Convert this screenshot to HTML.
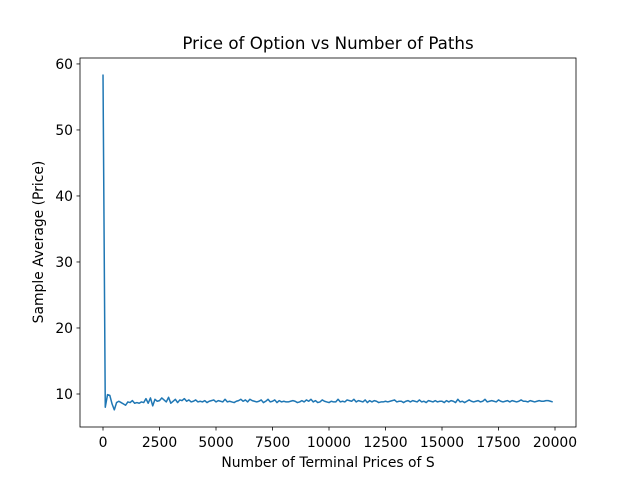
<!DOCTYPE html>
<html><head><meta charset="utf-8"><style>
body{margin:0;background:#fff;font-family:"DejaVu Sans","Liberation Sans",sans-serif;}
svg text{font-family:"DejaVu Sans","Liberation Sans",sans-serif;}
</style></head><body>
<svg id="chart" width="640" height="480" xmlns="http://www.w3.org/2000/svg">
<rect width="640" height="480" fill="#fff"/>
<text x="328" y="49" font-size="16.7" text-anchor="middle">Price of Option vs Number of Paths</text>
<g id="axes"></g>
<text x="328" y="467" font-size="13.9" text-anchor="middle">Number of Terminal Prices of S</text>
<text transform="translate(43,242) rotate(-90)" font-size="13.9" text-anchor="middle">Sample Average (Price)</text>
</svg>
<script>
const xTicks=[0,2500,5000,7500,10000,12500,15000,17500,20000];
const yTicks=[10,20,30,40,50,60];
const prices=[58.4,8.0,9.9,9.8,8.5,7.6,8.7,8.9,8.7,8.5,8.3,8.8,8.7,9.0,8.6,8.7,8.6,8.8,8.7,9.3,8.6,9.4,8.2,9.2,8.9,9.0,9.4,9.1,8.8,9.5,8.6,8.9,9.2,8.7,9.1,9.0,9.3,8.9,9.1,8.8,8.9,9.1,8.8,8.9,8.8,9.0,8.7,8.9,9.0,9.1,8.8,9.0,8.9,8.8,9.2,8.8,8.9,8.8,8.7,8.9,9.0,9.2,8.9,9.1,8.8,9.2,9.0,8.9,8.8,8.9,9.1,8.7,8.9,9.2,8.8,8.9,9.1,8.7,9.0,8.8,8.9,8.8,8.8,8.9,9.0,8.9,8.7,8.8,9.0,8.8,9.1,8.9,9.2,8.8,9.0,8.7,8.8,9.1,8.9,8.8,8.7,8.9,8.8,8.8,9.2,8.8,8.9,8.8,9.1,9.0,8.9,9.2,8.8,9.0,8.9,8.8,9.1,8.7,9.0,8.8,9.0,8.9,8.7,8.8,8.8,8.9,8.8,8.9,9.0,9.1,8.8,8.9,8.9,8.7,8.9,9.0,8.8,9.0,8.9,8.8,9.1,8.8,8.9,8.7,9.0,8.9,8.8,9.0,8.8,8.9,8.9,8.7,9.0,8.8,9.0,8.9,8.7,9.2,8.8,8.9,8.7,8.9,9.1,8.9,8.8,8.9,9.0,8.8,8.9,9.2,8.8,8.9,9.0,8.9,8.8,9.1,8.9,8.8,8.9,9.0,8.8,9.0,8.9,8.8,8.9,9.1,8.9,8.9,8.8,9.0,8.9,8.8,8.9,9.0,8.9,8.9,9.0,9.0,8.9,8.8];
const pathCounts=prices.map((_,i)=>i*100);
const L=80,R=576,T=58,B=427;
const xMin=-1018,xMax=20929,yMin=5.0,yMax=60.9;
const xs=v=>L+(v-xMin)/(xMax-xMin)*(R-L);
const ys=v=>B-(v-yMin)/(yMax-yMin)*(B-T);
const NS="http://www.w3.org/2000/svg";
const g=document.getElementById('axes');
function mk(t,a){const e=document.createElementNS(NS,t);for(const k in a)e.setAttribute(k,a[k]);g.appendChild(e);return e;}
const d=pathCounts.map((x,i)=>(i?'L':'M')+xs(x).toFixed(2)+' '+ys(prices[i]).toFixed(2)).join(' ');
const line=mk('path',{d:d,fill:'none',stroke:'#1f77b4','stroke-width':1.5,'stroke-linejoin':'round'});


const frame=mk('rect',{x:L,y:T,width:R-L,height:B-T,fill:'none',stroke:'#000','stroke-width':0.8});


xTicks.forEach(v=>{const x=xs(v);
 const t=mk('line',{x1:x,x2:x,y1:B,y2:B+3.5,stroke:'#000','stroke-width':0.8});
 
 
 const l=mk('text',{x:x,y:B+20,'font-size':13.9,'text-anchor':'middle'});l.textContent=v;
 
 });
yTicks.forEach(v=>{const y=ys(v);
 const t=mk('line',{x1:L-3.5,x2:L,y1:y,y2:y,stroke:'#000','stroke-width':0.8});
 
 
 const l=mk('text',{x:L-7,y:y+5,'font-size':13.9,'text-anchor':'end'});l.textContent=v;
 
 });
</script>
</body></html>
